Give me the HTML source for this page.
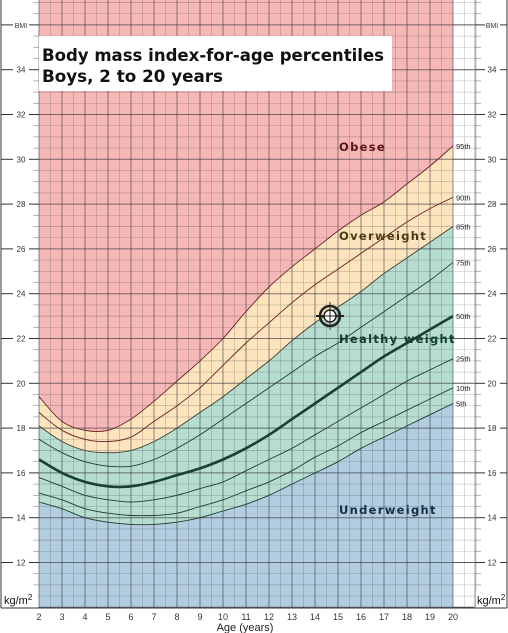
<!DOCTYPE html>
<html><head><meta charset="utf-8"><style>
html,body{margin:0;padding:0;background:#fff;}
svg{display:block;font-family:"Liberation Sans",sans-serif;}
</style></head><body>
<svg id="c" width="508" height="633" viewBox="0 0 508 633" xmlns="http://www.w3.org/2000/svg">
<rect x="0" y="0" width="508" height="633" fill="#fff"/>
<g id="bands"></g>
<g id="grid"></g>
<g id="curves"></g>
<g id="axes"></g>
</svg>
<script>
const ages=[2,3,4,5,6,7,8,9,10,11,12,13,14,15,16,17,18,19,20];
const p5 =[14.7,14.4,14.0,13.8,13.7,13.7,13.8,14.0,14.3,14.6,15.0,15.5,16.0,16.5,17.1,17.6,18.1,18.6,19.1];
const p10=[15.1,14.8,14.4,14.2,14.1,14.1,14.2,14.5,14.8,15.2,15.6,16.1,16.7,17.2,17.8,18.3,18.8,19.3,19.8];
const p25=[15.8,15.4,15.0,14.8,14.7,14.8,15.0,15.3,15.6,16.1,16.6,17.1,17.7,18.3,18.9,19.5,20.1,20.6,21.1];
const p50=[16.6,16.0,15.6,15.4,15.4,15.6,15.9,16.2,16.6,17.1,17.7,18.4,19.1,19.8,20.5,21.2,21.8,22.4,23.0];
const p75=[17.5,16.9,16.5,16.3,16.3,16.6,17.1,17.7,18.4,19.1,19.8,20.5,21.2,21.8,22.5,23.2,23.9,24.6,25.4];
const p85=[18.1,17.4,17.0,16.9,17.0,17.4,18.0,18.7,19.4,20.2,21.0,21.9,22.7,23.4,24.1,24.9,25.6,26.3,27.0];
const p90=[18.7,17.9,17.5,17.4,17.6,18.3,19.0,19.8,20.8,21.8,22.7,23.6,24.4,25.1,25.8,26.5,27.2,27.8,28.3];
const p95=[19.4,18.3,17.9,17.9,18.4,19.2,20.1,21.0,22.0,23.2,24.3,25.2,26.0,26.8,27.5,28.1,28.9,29.7,30.6];
const bmiTicks=[12,14,16,18,20,22,24,26,28,30,32,34];
const ageTicks=[2,3,4,5,6,7,8,9,10,11,12,13,14,15,16,17,18,19,20];
const pctNames=["5th","10th","25th","50th","75th","85th","90th","95th"];

const X=a=>39+(a-2)*23;
const Y=b=>159.3+(30-b)*22.4;
const NS="http://www.w3.org/2000/svg";
function mk(tag,attrs,parent){const e=document.createElementNS(NS,tag);for(const k in attrs)e.setAttribute(k,attrs[k]);parent.appendChild(e);return e;}
function pts(arr){return arr.map((v,i)=>[X(ages[i]),Y(v)]);}
function smooth(p,move){let d=(move?"M":"L")+p[0][0].toFixed(1)+","+p[0][1].toFixed(1);
 for(let i=0;i<p.length-1;i++){const p0=p[i-1]||p[i],p1=p[i],p2=p[i+1],p3=p[i+2]||p2;
  const c1=[p1[0]+(p2[0]-p0[0])/6,p1[1]+(p2[1]-p0[1])/6],c2=[p2[0]-(p3[0]-p1[0])/6,p2[1]-(p3[1]-p1[1])/6];
  d+="C"+c1.map(v=>v.toFixed(1))+" "+c2.map(v=>v.toFixed(1))+" "+p2.map(v=>v.toFixed(1));}
 return d;}
function rev(p){return p.slice().reverse();}
const plotTop=0,bot=608,L=X(2),R=X(20);
const bands=document.getElementById('bands');
let e=mk('rect',{x:L,y:plotTop,width:R-L,height:bot-plotTop,fill:'#f6b7b7'},bands);


e=mk('path',{d:smooth(pts(p95),true)+smooth(rev(pts(p85)),false)+"Z",fill:'#fde4bd'},bands);


e=mk('path',{d:smooth(pts(p85),true)+smooth(rev(pts(p5)),false)+"Z",fill:'#b6ddd0'},bands);


e=mk('path',{d:smooth(pts(p5),true)+`L${R},${bot}L${L},${bot}Z`,fill:'#b2cde0'},bands);



const grid=document.getElementById('grid');
for(let a=2;a<=21;a+=0.5){const x=X(a);const major=Number.isInteger(a);const inPlot=a<=20;
 mk('line',{x1:x,y1:plotTop,x2:x,y2:bot,stroke:inPlot?(major?'rgba(40,50,60,0.55)':'rgba(60,60,70,0.28)'):'#ccc','stroke-width':major?1:0.7},grid);}
for(let b=10;b<=37;b+=0.5){const y=Y(b);const even=b%2===0;const major=Number.isInteger(b);
 mk('line',{x1:L,y1:y,x2:R,y2:y,stroke:even?'rgba(40,40,50,0.6)':(major?'rgba(60,60,70,0.35)':'rgba(60,60,70,0.25)'),'stroke-width':even?1:0.7},grid);
 mk('line',{x1:R,y1:y,x2:475,y2:y,stroke:even?'#555':'#ccc','stroke-width':even?1:0.7},grid);}

const curves=document.getElementById('curves');
[p5,p10,p25,p50,p75,p85,p90,p95].forEach((arr,i)=>{
 const isMed=i===3;const col=i>=6?'#6a2020':(i===5?'#3a4030':'#1f3d35');
 const c=mk('path',{d:smooth(pts(arr),true),fill:'none',stroke:isMed?'#1a3f33':col,'stroke-width':isMed?2.6:0.9},curves);
 
 
 const t=mk('text',{x:456,y:Y(arr[arr.length-1])+3,'font-size':7.5,fill:'#222'},curves);
 t.textContent=pctNames[i];
 
 
});

const axes=document.getElementById('axes');
mk('line',{x1:1,y1:0,x2:1,y2:bot,stroke:'#333','stroke-width':1},axes);
mk('line',{x1:507,y1:0,x2:507,y2:bot,stroke:'#333','stroke-width':1},axes);
mk('line',{x1:1,y1:bot,x2:507,y2:bot,stroke:'#333','stroke-width':1},axes);
mk('line',{x1:475,y1:0,x2:475,y2:bot,stroke:'#999','stroke-width':1},axes);
for(let b=10;b<=37;b+=0.5){const y=Y(b);if(b%2===0)continue;
 mk('line',{x1:33,y1:y,x2:L,y2:y,stroke:'#888','stroke-width':0.6},axes);
 mk('line',{x1:475,y1:y,x2:481,y2:y,stroke:'#888','stroke-width':0.6},axes);}
function ytick(b,txt){const y=Y(b);
 mk('line',{x1:1,y1:y,x2:13,y2:y,stroke:'#333','stroke-width':1},axes);
 mk('line',{x1:29,y1:y,x2:L,y2:y,stroke:'#333','stroke-width':1},axes);
 mk('line',{x1:475,y1:y,x2:485,y2:y,stroke:'#333','stroke-width':1},axes);
 mk('line',{x1:500,y1:y,x2:507,y2:y,stroke:'#333','stroke-width':1},axes);
 let t=mk('text',{x:21,y:y+3,'font-size':txt==='BMI'?7:8,'text-anchor':'middle',fill:'#333'},axes);
 t.textContent=txt;
 
 
 t=mk('text',{x:492,y:y+3,'font-size':txt==='BMI'?7:8,'text-anchor':'middle',fill:'#333'},axes);
 t.textContent=txt;
 
 }
bmiTicks.forEach(b=>ytick(b,String(b)));
ytick(36,'BMI');
ageTicks.forEach(a=>{const t=mk('text',{x:X(a),y:620,'font-size':9,'text-anchor':'middle',fill:'#333'},axes);
 t.textContent=a;
 
 });
</script>
<svg style="position:absolute;left:0;top:0" width="508" height="633">
<rect x="39" y="36" width="353" height="55" fill="#fff"/>
<text x="42" y="61" font-family="DejaVu Sans, sans-serif" font-weight="bold" font-size="17" textLength="342" lengthAdjust="spacingAndGlyphs" fill="#111">Body mass index-for-age percentiles</text>
<text x="42" y="82" font-family="DejaVu Sans, sans-serif" font-weight="bold" font-size="17" textLength="181" lengthAdjust="spacingAndGlyphs" fill="#111">Boys, 2 to 20 years</text>
<g font-family="DejaVu Sans, sans-serif" font-weight="bold" font-size="11.5" letter-spacing="1.3">
<text x="339" y="151" fill="#5a1515">Obese</text>
<text x="339" y="240" fill="#4a3a15">Overweight</text>
<text x="339" y="343" fill="#103d30">Healthy weight</text>
<text x="339" y="514" fill="#152f45">Underweight</text>
</g>
<g transform="translate(330,316)">
<line x1="0" y1="-14" x2="0" y2="14" stroke="#888" stroke-width="2"/>
<line x1="-14" y1="0" x2="14" y2="0" stroke="#222" stroke-width="2"/>
<circle r="10" fill="none" stroke="#222" stroke-width="2.5"/>
<circle r="6" fill="#fff" stroke="#222" stroke-width="1.5"/>
<line x1="0" y1="-6" x2="0" y2="6" stroke="#222" stroke-width="1"/>
<line x1="-6" y1="0" x2="6" y2="0" stroke="#222" stroke-width="1"/>
</g>
<rect x="2" y="590" width="36" height="17" fill="#fff"/>
<text x="4" y="604" font-size="11" fill="#111" font-family="Liberation Sans, sans-serif">kg/m<tspan font-size="8" dy="-4">2</tspan></text>
<rect x="476" y="590" width="30" height="17" fill="#fff"/>
<text x="477" y="604" font-size="11" fill="#111" font-family="Liberation Sans, sans-serif">kg/m<tspan font-size="8" dy="-4">2</tspan></text>
<text x="245" y="631" font-size="11" text-anchor="middle" fill="#222" font-family="Liberation Sans, sans-serif">Age (years)</text>
</svg>
</body></html>
